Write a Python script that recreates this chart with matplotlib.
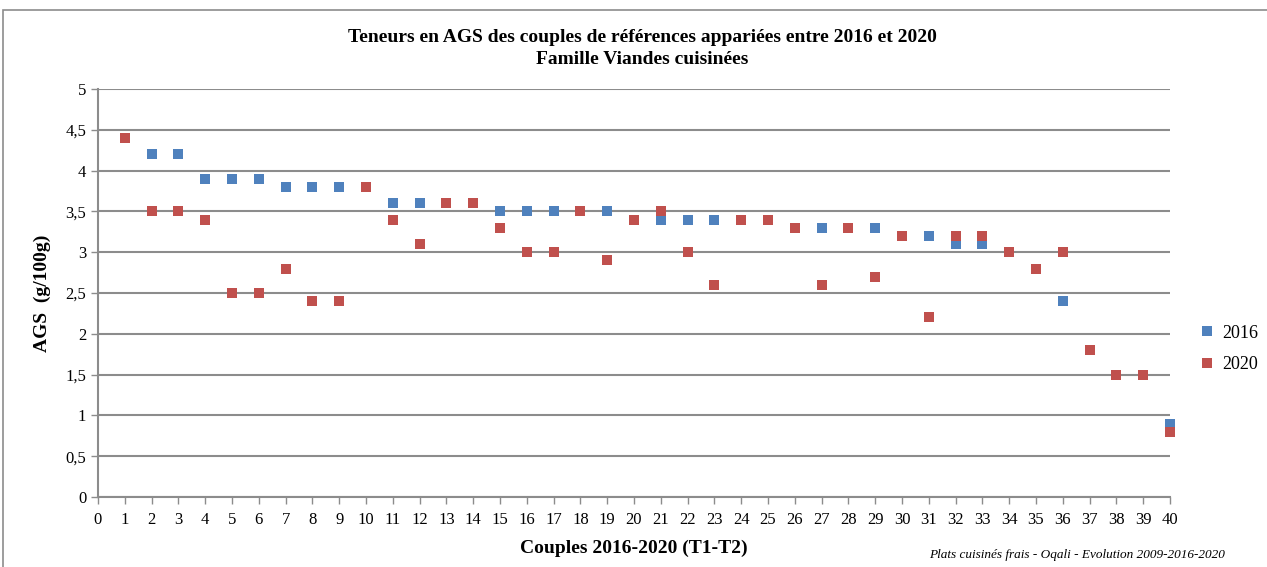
import numpy as np
import matplotlib
matplotlib.use("Agg")
from matplotlib import pyplot as plt
from matplotlib.patches import Rectangle
from matplotlib.ticker import FuncFormatter, MultipleLocator

# Data: couples 1..40
couples = list(range(1, 41))
ags_2016 = [4.4, 4.2, 4.2, 3.9, 3.9, 3.9, 3.8, 3.8, 3.8, 3.8,
            3.6, 3.6, 3.6, 3.6, 3.5, 3.5, 3.5, 3.5, 3.5, 3.4,
            3.4, 3.4, 3.4, 3.4, 3.4, 3.3, 3.3, 3.3, 3.3, 3.2,
            3.2, 3.1, 3.1, 3.0, 2.8, 2.4, 1.8, 1.5, 1.5, 0.9]
ags_2020 = [4.4, 3.5, 3.5, 3.4, 2.5, 2.5, 2.8, 2.4, 2.4, 3.8,
            3.4, 3.1, 3.6, 3.6, 3.3, 3.0, 3.0, 3.5, 2.9, 3.4,
            3.5, 3.0, 2.6, 3.4, 3.4, 3.3, 2.6, 3.3, 2.7, 3.2,
            2.2, 3.2, 3.2, 3.0, 2.8, 3.0, 1.8, 1.5, 1.5, 0.8]

blue = "#4F81BD"
red = "#C0504D"
serif = "Liberation Serif"

fig = plt.figure(figsize=(12.67, 5.67), dpi=100)
ax = fig.add_axes([98 / 1267, 1 - 497 / 567, (1170 - 98) / 1267, (497 - 89) / 567])

# chart border
fig.patches.append(Rectangle((3 / 1267, -0.1), 1.2, 1 - 10 / 567 + 0.1,
                             transform=fig.transFigure, fill=False,
                             edgecolor="#8c8c8c", linewidth=1.2))

ax.plot(couples, ags_2016, "s", color=blue, ms=7.2, mew=0, label="2016",
        zorder=3, clip_on=False)
ax.plot(couples, ags_2020, "s", color=red, ms=7.2, mew=0, label="2020",
        zorder=4, clip_on=False)

ax.set_xlim(0, 40)
ax.set_ylim(0, 5)
ax.xaxis.set_major_locator(MultipleLocator(1))
ax.yaxis.set_major_locator(MultipleLocator(0.5))
ax.yaxis.set_major_formatter(FuncFormatter(lambda v, p: f"{v:g}".replace(".", ",")))
ax.grid(axis="y", color="#8c8c8c", linewidth=1.5)
ax.set_axisbelow(True)

for s in ["top", "right"]:
    ax.spines[s].set_visible(False)
ax.spines["left"].set_color("#8c8c8c")
ax.spines["bottom"].set_color("#8c8c8c")
ax.spines["left"].set_linewidth(1.5)
ax.spines["bottom"].set_linewidth(1.5)
ax.tick_params(axis="both", colors="#8c8c8c", labelcolor="black", length=5,
               width=1, labelsize=12)
ax.tick_params(axis="x", pad=6)
for lbl in ax.get_xticklabels() + ax.get_yticklabels():
    lbl.set_fontfamily(serif)

ax.set_xlabel("Couples 2016-2020 (T1-T2)", fontsize=14, fontweight="bold",
              family=serif, labelpad=8)
ax.set_ylabel("AGS  (g/100g)", fontsize=14, fontweight="bold", family=serif,
              labelpad=10)

fig.text(0.507, 1 - 37 / 567, "Teneurs en AGS des couples de références appariées entre 2016 et 2020",
         ha="center", va="center", fontsize=14, fontweight="bold", family=serif)
fig.text(0.507, 1 - 59 / 567, "Famille Viandes cuisinées",
         ha="center", va="center", fontsize=14, fontweight="bold", family=serif)
fig.text(1225 / 1267, 1 - 555 / 567, "Plats cuisinés frais - Oqali - Evolution 2009-2016-2020",
         ha="right", va="center", fontsize=9.5, style="italic", family=serif)

ax.legend(loc="center left", bbox_to_anchor=(1202 / 1267, 1 - 349 / 567),
          bbox_transform=fig.transFigure, frameon=False, handlelength=0.6,
          handletextpad=0.5, labelspacing=0.8, borderpad=0, borderaxespad=0,
          prop={"family": serif, "size": 13})

fig.savefig("out.png", dpi=100)
